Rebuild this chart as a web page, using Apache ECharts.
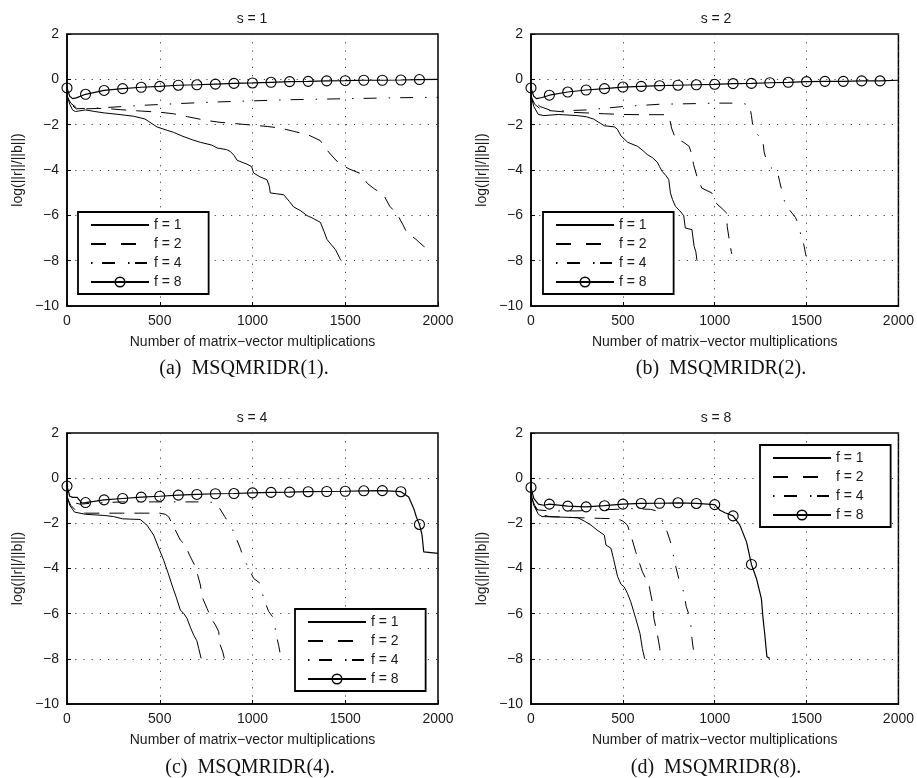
<!DOCTYPE html>
<html>
<head>
<meta charset="utf-8">
<script src="https://cdn.jsdelivr.net/npm/echarts@6/dist/echarts.min.js"></script>
<style>
html,body{margin:0;padding:0;background:#fff;}
#chart{width:917px;height:778px;}
</style>
</head>
<body>
<div id="chart"></div>
<script>
// ---------- data ----------
const xRange = [0, 2000];
const xStep = 500;
const yRange = [-10, 2];
const yStep = 2;
const markerStep = 100;
const seriesNames = ['f = 1', 'f = 2', 'f = 4', 'f = 8'];
const panelTitles = ['s = 1', 's = 2', 's = 4', 's = 8'];
const captions = ['(a)  MSQMRIDR(1).', '(b)  MSQMRIDR(2).', '(c)  MSQMRIDR(4).', '(d)  MSQMRIDR(8).'];
const xName = 'Number of matrix\u2212vector multiplications';
const yName = 'log(||r||/||b||)';

// panel (a) s = 1
const a_f1 = [[0,-0.7],[15,-1.1],[30,-1.35],[45,-1.42],[60,-1.4],[100,-1.35],[150,-1.42],[200,-1.48],[280,-1.55],[360,-1.63],[420,-1.75],[485,-2.1],[540,-2.25],[575,-2.34],[620,-2.5],[680,-2.68],[720,-2.78],[780,-2.9],[810,-3.03],[860,-3.1],[880,-3.18],[900,-3.35],[917,-3.57],[950,-3.68],[970,-3.74],[995,-3.85],[1006,-4.13],[1040,-4.3],[1078,-4.43],[1090,-4.7],[1096,-5.01],[1130,-5.05],[1168,-5.09],[1200,-5.4],[1222,-5.63],[1260,-5.8],[1294,-6.01],[1330,-6.15],[1366,-6.31],[1385,-6.7],[1402,-7.07],[1425,-7.3],[1447,-7.51],[1462,-7.75],[1474,-7.96],[1480,-8.0]];
const a_f2 = [[0,-0.75],[20,-1.05],[50,-1.25],[100,-1.3],[200,-1.28],[290,-1.34],[400,-1.4],[500,-1.45],[575,-1.52],[650,-1.65],[755,-1.82],[830,-1.9],[900,-1.95],[1000,-2.02],[1080,-2.08],[1150,-2.15],[1220,-2.29],[1300,-2.45],[1365,-2.7],[1393,-3.03],[1420,-3.3],[1465,-3.7],[1520,-3.95],[1580,-4.15],[1620,-4.6],[1660,-4.85],[1707,-5.1],[1740,-5.6],[1780,-5.95],[1810,-6.4],[1833,-6.78],[1880,-7.05],[1920,-7.35],[1950,-7.5],[1960,-7.55]];
const a_f4 = [[0,-0.75],[20,-1.1],[50,-1.3],[100,-1.28],[200,-1.25],[300,-1.2],[400,-1.15],[600,-1.07],[800,-1.0],[1000,-0.95],[1200,-0.9],[1400,-0.87],[1600,-0.84],[1800,-0.81],[2000,-0.79]];
const a_f8 = [[0,-0.38],[15,-0.75],[30,-0.85],[50,-0.82],[100,-0.66],[200,-0.49],[300,-0.41],[400,-0.35],[500,-0.31],[600,-0.26],[700,-0.24],[800,-0.21],[900,-0.18],[1000,-0.16],[1100,-0.13],[1200,-0.1],[1300,-0.09],[1400,-0.07],[1500,-0.06],[1600,-0.04],[1700,-0.04],[1800,-0.03],[1900,-0.01],[2000,0]];

// panel (b) s = 2
const b_f1 = [[0,-0.7],[15,-1.2],[40,-1.55],[70,-1.6],[150,-1.55],[250,-1.6],[300,-1.65],[340,-1.75],[380,-1.95],[400,-2.05],[455,-2.1],[470,-2.2],[490,-2.5],[527,-2.78],[581,-2.96],[610,-3.15],[633,-3.32],[660,-3.45],[687,-3.65],[700,-3.85],[714,-4.06],[735,-4.25],[750,-4.43],[759,-5.01],[770,-5.3],[786,-5.6],[810,-5.8],[831,-6.01],[840,-6.56],[876,-6.63],[888,-7.37],[897,-7.6],[903,-7.96],[905,-8]];
const b_f2 = [[0,-0.75],[20,-1.1],[50,-1.3],[100,-1.38],[200,-1.45],[300,-1.48],[400,-1.52],[500,-1.55],[600,-1.56],[740,-1.56],[755,-1.75],[765,-2.15],[786,-2.6],[831,-2.78],[860,-2.95],[876,-3.32],[885,-3.76],[903,-4.28],[930,-4.8],[984,-5.01],[1011,-5.49],[1040,-5.7],[1065,-5.9],[1068,-6.49],[1079,-7.07],[1090,-7.59],[1093,-7.7]];
const b_f4 = [[0,-0.75],[20,-1.0],[50,-1.2],[100,-1.35],[150,-1.4],[300,-1.35],[500,-1.2],[700,-1.1],[900,-1.07],[1000,-1.05],[1150,-1.05],[1190,-1.15],[1200,-1.6],[1210,-2.22],[1240,-2.5],[1263,-2.8],[1270,-3.25],[1290,-3.76],[1320,-4.0],[1345,-4.2],[1353,-4.5],[1380,-5.38],[1406,-5.75],[1440,-6.1],[1460,-6.49],[1470,-6.93],[1485,-7.3],[1496,-7.74],[1500,-8]];
const b_f8 = [[0,-0.38],[15,-0.75],[30,-0.85],[60,-0.8],[100,-0.7],[200,-0.56],[300,-0.47],[400,-0.41],[500,-0.34],[600,-0.31],[700,-0.28],[800,-0.26],[900,-0.24],[1000,-0.22],[1100,-0.19],[1200,-0.18],[1300,-0.15],[1400,-0.13],[1500,-0.1],[1600,-0.09],[1700,-0.09],[1800,-0.07],[1900,-0.07],[2000,-0.04]];

// panel (c) s = 4
const c_f1 = [[0,-0.8],[15,-1.2],[40,-1.5],[100,-1.6],[200,-1.65],[250,-1.7],[300,-1.8],[395,-1.83],[431,-2.08],[467,-2.52],[490,-3.0],[521,-3.63],[545,-4.2],[566,-4.73],[590,-5.3],[611,-5.84],[630,-6.0],[647,-6.21],[665,-6.6],[683,-6.95],[700,-7.2],[710,-7.54],[723,-7.98],[725,-8]];
const c_f2 = [[0,-0.85],[20,-1.2],[50,-1.45],[100,-1.55],[300,-1.55],[500,-1.55],[530,-1.6],[548,-1.71],[575,-2.15],[611,-2.74],[638,-2.96],[660,-3.4],[692,-3.92],[705,-4.3],[719,-4.73],[728,-5.25],[755,-5.77],[782,-6.28],[800,-6.5],[818,-6.8],[823,-7.32],[840,-7.7],[848,-7.98],[850,-8]];
const c_f4 = [[0,-0.85],[20,-1.05],[70,-1.15],[150,-1.1],[300,-1.05],[500,-1.05],[700,-1.05],[790,-1.07],[818,-1.27],[850,-1.7],[880,-2.09],[898,-2.37],[934,-3.1],[952,-3.55],[980,-4.0],[1006,-4.44],[1042,-4.66],[1060,-5.33],[1087,-5.9],[1114,-6.2],[1128,-6.95],[1141,-7.4],[1150,-7.8],[1160,-8]];
const c_f8 = [[0,-0.35],[15,-0.8],[30,-0.85],[55,-0.85],[80,-1.1],[100,-1.08],[200,-0.96],[300,-0.9],[400,-0.84],[500,-0.8],[600,-0.75],[700,-0.72],[800,-0.69],[900,-0.68],[1000,-0.65],[1100,-0.63],[1200,-0.62],[1300,-0.6],[1400,-0.59],[1500,-0.58],[1600,-0.56],[1700,-0.55],[1800,-0.6],[1842,-0.83],[1869,-1.34],[1883,-1.71],[1900,-2.05],[1914,-2.52],[1923,-3.26],[1930,-3.3],[2000,-3.33]];

// panel (d) s = 8
const d_f1 = [[0,-0.7],[15,-1.2],[40,-1.6],[60,-1.7],[150,-1.72],[255,-1.75],[290,-1.9],[327,-2.08],[360,-2.3],[399,-2.52],[408,-2.96],[435,-3.1],[450,-3.6],[471,-4.35],[490,-4.7],[507,-4.81],[525,-5.1],[543,-5.47],[570,-6.21],[593,-6.87],[606,-7.54],[619,-8]];
const d_f2 = [[0,-0.8],[20,-1.2],[50,-1.6],[100,-1.7],[250,-1.75],[380,-1.78],[470,-1.8],[500,-1.9],[525,-2.08],[550,-2.7],[570,-3.26],[606,-4.14],[642,-4.73],[660,-5.47],[669,-6.21],[687,-6.87],[701,-7.54],[705,-8]];
const d_f4 = [[0,-0.8],[15,-1.1],[30,-1.4],[100,-1.45],[250,-1.45],[400,-1.4],[550,-1.35],[650,-1.38],[685,-1.45],[696,-1.56],[741,-2.37],[759,-2.82],[786,-3.85],[804,-4.44],[831,-5.03],[845,-5.69],[867,-6.21],[876,-7.09],[884,-7.6],[888,-8]];
const d_f8 = [[0,-0.41],[15,-0.9],[40,-1.15],[70,-1.2],[100,-1.15],[200,-1.24],[300,-1.27],[400,-1.22],[500,-1.15],[600,-1.12],[700,-1.11],[800,-1.09],[900,-1.12],[1000,-1.17],[1029,-1.42],[1056,-1.53],[1100,-1.67],[1137,-2.08],[1173,-2.82],[1200,-3.82],[1227,-4.44],[1254,-5.33],[1263,-6.21],[1272,-6.88],[1284,-7.91],[1299,-7.98]];

const panels = [
  [a_f1, a_f2, a_f4, a_f8],
  [b_f1, b_f2, b_f4, b_f8],
  [c_f1, c_f2, c_f4, c_f8],
  [d_f1, d_f2, d_f4, d_f8]
];

// ---------- layout / style ----------
const FONT = 'Liberation Sans';
const SERIF = 'Liberation Serif';
const TXT = '#1a1a1a';
const grids = [
  {left: 67,  top: 34,  width: 371, height: 272},
  {left: 531, top: 34,  width: 371, height: 272},
  {left: 67,  top: 433, width: 371, height: 271},
  {left: 531, top: 433, width: 371, height: 271}
];
const legendPos = [
  {left: 78,  top: 212},
  {left: 543, top: 212},
  {left: 295, top: 609},
  {left: 760, top: 445}
];
const titlePos = [[252, 19], [716, 19], [252, 418], [716, 418]];
const captionPos = [[244, 369], [721, 369], [250, 768], [716, 768]];
const lineTypes = ['solid', [15, 10], [1.5, 10, 13, 12], 'solid'];
const legendLineTypes = ['solid', [15, 15], [1.5, 9.5, 13, 13, 1.5, 5.5, 12, 10], 'solid'];
const minus = v => (v < 0 ? '\u2212' + Math.abs(v) : String(v));

const option = {
  animation: false,
  backgroundColor: '#fff',
  textStyle: {fontFamily: FONT},
  grid: grids.map(g => Object.assign({show: true, borderColor: '#000', borderWidth: 1.5, backgroundColor: 'transparent'}, g)),
  xAxis: grids.map((g, i) => ({
    type: 'value', gridIndex: i, min: xRange[0], max: xRange[1], interval: xStep,
    name: xName, nameLocation: 'middle', nameGap: 29,
    nameTextStyle: {fontFamily: FONT, fontSize: 14, color: TXT},
    axisLine: {show: true, onZero: false, lineStyle: {color: '#000', width: 1.5}},
    axisTick: {show: true, inside: true, length: 4, lineStyle: {color: '#000'}},
    axisLabel: {fontFamily: FONT, fontSize: 14, color: TXT, margin: 8, formatter: minus},
    splitLine: {show: true, lineStyle: {color: '#444', width: 1, type: [1.2, 7]}}
  })),
  yAxis: grids.map((g, i) => ({
    type: 'value', gridIndex: i, min: yRange[0], max: yRange[1], interval: yStep,
    name: yName, nameLocation: 'middle', nameGap: 42, nameRotate: 90,
    nameTextStyle: {fontFamily: FONT, fontSize: 14, color: TXT},
    axisLine: {show: true, onZero: false, lineStyle: {color: '#000', width: 1.5}},
    axisTick: {show: true, inside: true, length: 4, lineStyle: {color: '#000'}},
    axisLabel: {fontFamily: FONT, fontSize: 14, color: TXT, margin: 8, formatter: minus},
    splitLine: {show: true, lineStyle: {color: '#444', width: 1, type: [1.2, 7]}}
  })),
  legend: legendPos.map(p => ({
    left: p.left, top: p.top, orient: 'vertical', selectedMode: false,
    backgroundColor: '#fff', borderColor: '#000', borderWidth: 1.8, borderRadius: 0,
    padding: [6, 27, 5, 12], itemWidth: 58, itemHeight: 12, itemGap: 5,
    lineStyle: {width: 2},
    textStyle: {fontFamily: FONT, fontSize: 14, color: TXT},
    data: seriesNames.map((n, j) => j === 3
      ? {name: n, lineStyle: {width: 2, type: legendLineTypes[j]},
         itemStyle: {color: 'rgba(0,0,0,0)', borderColor: '#000', borderWidth: 1.5, opacity: 1}}
      : {name: n, lineStyle: {width: 2, type: legendLineTypes[j]}, itemStyle: {opacity: 0}})
  })),
  graphic: [].concat(
    panelTitles.map((t, i) => ({
      type: 'text', x: titlePos[i][0], y: titlePos[i][1], silent: true,
      style: {text: t, fontFamily: FONT, fontSize: 14, fill: TXT, align: 'center', verticalAlign: 'middle'}
    })),
    captions.map((t, i) => ({
      type: 'text', x: captionPos[i][0], y: captionPos[i][1], silent: true,
      style: {text: t, fontFamily: SERIF, fontSize: 20, fill: '#111', align: 'center', verticalAlign: 'middle'}
    }))
  ),
  series: []
};

panels.forEach((set, i) => {
  set.forEach((arr, j) => {
    const isMarked = j === 3;
    option.series.push({
      type: 'line', name: seriesNames[j], xAxisIndex: i, yAxisIndex: i,
      data: isMarked
        ? arr.map(p => ({value: p, symbol: (p[0] % markerStep === 0 && p[0] < xRange[1]) ? 'circle' : 'none'}))
        : arr,
      symbol: isMarked ? 'circle' : 'none', symbolSize: 10, showAllSymbol: true,
      lineStyle: {color: '#000', width: isMarked ? 1.2 : 1, type: lineTypes[j]},
      itemStyle: {color: 'rgba(0,0,0,0)', borderColor: '#000', borderWidth: isMarked ? 1.1 : 0},
      emphasis: {disabled: true}, silent: true, z: isMarked ? 3 : 2
    });
  });
});

const chart = echarts.init(document.getElementById('chart'), null, {renderer: 'canvas'});
chart.setOption(option);
</script>
</body>
</html>
